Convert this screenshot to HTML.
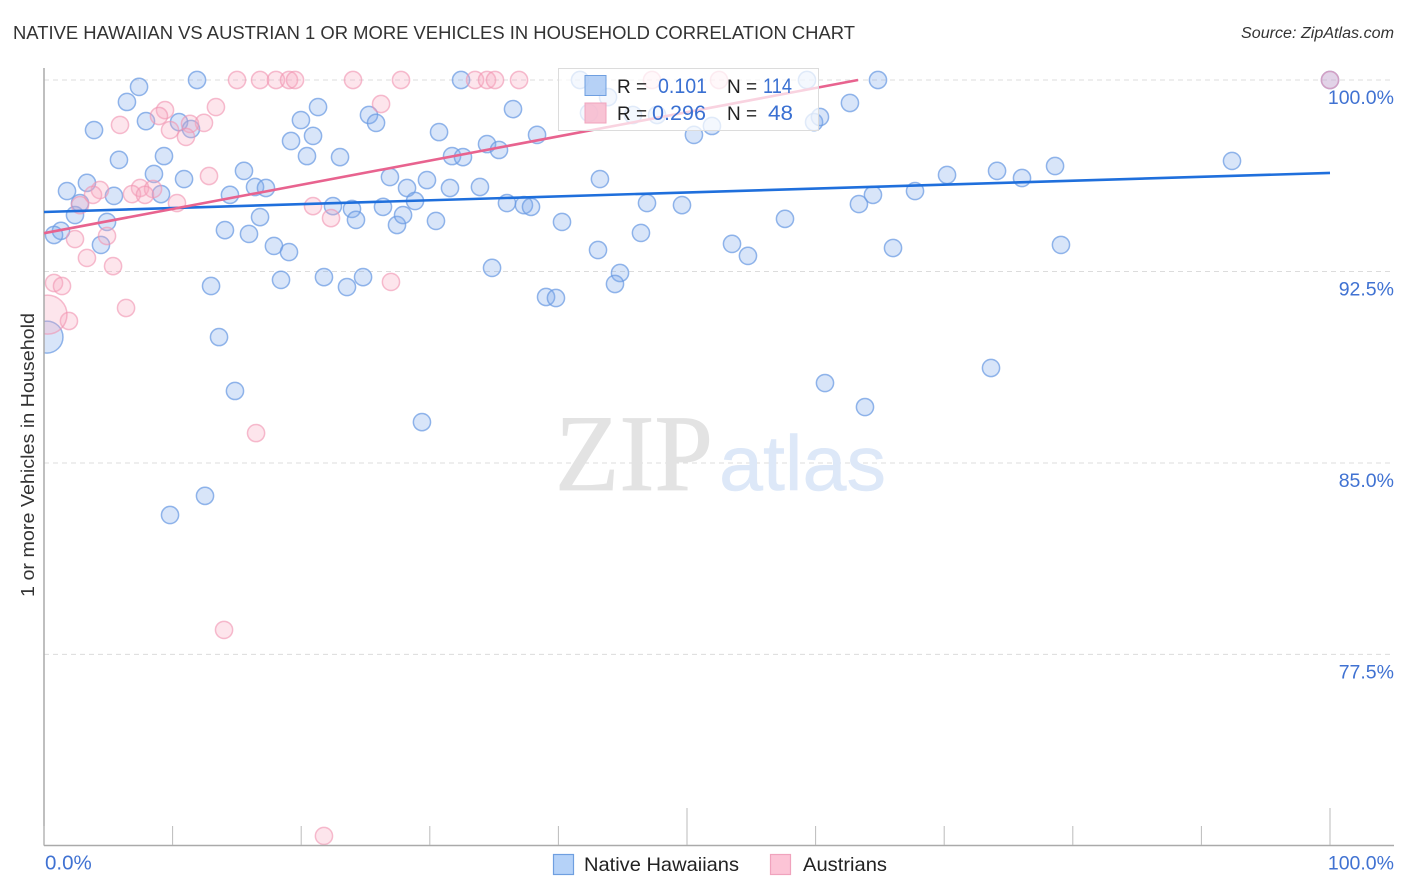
<!DOCTYPE html>
<html lang="en">
<head>
<meta charset="utf-8">
<title>Native Hawaiian vs Austrian correlation chart</title>
<style>
html,body{margin:0;padding:0;background:#fff;}
svg{display:block;font-family:"Liberation Sans",sans-serif;}
</style>
</head>
<body>
<svg id="chart" xmlns="http://www.w3.org/2000/svg" width="1406" height="892" viewBox="0 0 1406 892">
  <text x="13" y="39" font-size="18.5" fill="#333" textLength="842" lengthAdjust="spacingAndGlyphs">NATIVE HAWAIIAN VS AUSTRIAN 1 OR MORE VEHICLES IN HOUSEHOLD CORRELATION CHART</text>
  <text x="1241" y="38" font-size="15.5" font-style="italic" fill="#333" textLength="153" lengthAdjust="spacingAndGlyphs">Source: ZipAtlas.com</text>
  <g id="grid"></g>
  <text x="555" y="490" font-family="'Liberation Serif',serif" font-size="109" fill="#e3e3e3" stroke="#e3e3e3" stroke-width="0.8" textLength="158" lengthAdjust="spacingAndGlyphs">ZIP</text>
  <text x="719" y="490" font-family="'Liberation Sans',sans-serif" style="font-family:'Liberation Sans',sans-serif" font-size="78" fill="#dde8f8" stroke="#dde8f8" stroke-width="0.5" textLength="167" lengthAdjust="spacingAndGlyphs">atlas</text>
  <g id="hawaiian-points"></g>
  <g id="austrian-points"></g>
  <rect x="0" y="60" width="44" height="790" fill="#fff"/>
  <g id="axes"></g>
  <g id="trends"></g>
  <g>
    <rect x="558.5" y="68.5" width="260" height="62" fill="#fff" fill-opacity="0.72" stroke="#dcdcdc" stroke-width="1"/>
    <rect x="585" y="75.5" width="21" height="20" fill="#a9c9f5" fill-opacity="0.85" stroke="#6f9fe0"/>
    <rect x="585" y="103" width="21" height="20" fill="#f7b9cd" fill-opacity="0.85" stroke="#f0a3bd"/>
    <text x="617" y="93" font-size="19" fill="#222">R =</text>
    <text x="658" y="93" font-size="21" fill="#3a70d2" textLength="49" lengthAdjust="spacingAndGlyphs">0.101</text>
    <text x="727" y="93" font-size="19" fill="#222">N =</text>
    <text x="763" y="93" font-size="21" fill="#3a70d2" textLength="29" lengthAdjust="spacingAndGlyphs">114</text>
    <text x="617" y="120" font-size="19" fill="#222">R =</text>
    <text x="652" y="120" font-size="21" fill="#3a70d2" textLength="54" lengthAdjust="spacingAndGlyphs">0.296</text>
    <text x="727" y="120" font-size="19" fill="#222">N =</text>
    <text x="768" y="120" font-size="21" fill="#3a70d2" textLength="25" lengthAdjust="spacingAndGlyphs">48</text>
  </g>
  <text transform="translate(34,455) rotate(-90)" font-size="18.5" fill="#333" text-anchor="middle" textLength="284" lengthAdjust="spacingAndGlyphs">1 or more Vehicles in Household</text>
  <g id="tick-labels"></g>
  <g>
    <rect x="553.5" y="854.5" width="20" height="20" fill="#b5d2f8" stroke="#6f9fe0" stroke-width="1.2"/>
    <text x="584" y="871" font-size="19.5" fill="#222" textLength="155" lengthAdjust="spacingAndGlyphs">Native Hawaiians</text>
    <rect x="770.5" y="854.5" width="20" height="20" fill="#fcc4d6" stroke="#f0a3bd" stroke-width="1.2"/>
    <text x="803" y="871" font-size="19.5" fill="#222" textLength="84" lengthAdjust="spacingAndGlyphs">Austrians</text>
  </g>
</svg>
<script>
const yTickValues = [100, 92.5, 85, 77.5];
const yTickLabels = ["100.0%", "92.5%", "85.0%", "77.5%"];
const xTickValues = [0, 10, 20, 30, 40, 50, 60, 70, 80, 90, 100];
const xTickLabels = ["0.0%", "100.0%"];

const hawaiianX = [11.90,7.39,6.45,32.43,41.68,59.33,64.85,100,3.89,7.93,10.50,11.43,19.98,21.31,19.21,20.92,25.27,25.82,20.45,23.02,30.72,34.45,35.38,36.47,38.34,31.73,32.58,5.83,9.33,3.34,1.79,2.80,2.41,5.44,8.55,9.10,10.89,14.46,15.55,16.41,17.26,16.80,14.07,15.94,17.88,19.05,18.43,21.77,23.56,24.81,12.99,13.61,14.85,12.52,9.80,29.39,22.47,23.95,24.26,26.36,26.90,28.23,28.85,27.45,27.92,29.78,31.57,30.48,33.90,36.00,37.32,37.87,40.28,34.84,39.04,39.81,43.08,43.23,44.79,44.40,46.42,46.89,49.61,50.54,51.94,53.50,54.74,57.62,59.88,60.34,62.67,60.73,63.84,63.37,64.46,67.73,66.02,70.22,73.64,74.11,76.05,78.62,79.08,92.38,4.90,4.43,1.32,0.78,43.86,42.38,45.80,47.67];
const hawaiianY = [100,99.73,99.14,100,100,100,100,100,98.04,98.39,98.35,98.08,98.43,98.94,97.61,97.81,98.63,98.32,97.02,96.98,97.96,97.49,97.26,98.86,97.85,97.02,96.98,96.87,97.02,95.97,95.65,95.18,94.71,95.46,96.32,95.53,96.12,95.50,96.44,95.81,95.77,94.63,94.12,93.97,93.50,93.26,92.17,92.28,91.89,92.28,91.93,89.93,87.82,83.71,82.96,86.60,95.06,94.95,94.52,95.03,96.20,95.77,95.26,94.32,94.71,96.08,95.77,94.48,95.81,95.18,95.10,95.03,94.44,92.64,91.50,91.46,93.34,96.12,92.44,92.01,94.01,95.18,95.10,97.85,98.20,93.58,93.11,94.56,98.35,98.55,99.10,88.13,87.19,95.14,95.50,95.65,93.42,96.28,88.72,96.44,96.16,96.63,93.54,96.83,94.44,93.54,94.09,93.93,99.33,98.71,98.63,98.63];
const hawaiianLargeX = [0.23];
const hawaiianLargeY = [89.93];

const austrianX = [15.01,16.80,18.04,19.05,19.52,24.03,27.76,33.52,34.45,35.07,36.94,47.28,52.49,100,13.37,9.41,8.94,5.91,12.44,11.35,9.80,11.04,12.83,4.35,3.81,2.80,7.47,8.48,6.84,7.85,10.34,20.92,22.32,4.90,2.41,3.34,5.37,0.78,1.40,6.38,1.94,26.21,16.49,14.00,26.98,21.77];
const austrianY = [100,100,100,100,100,100,100,100,100,100,100,100,100,100,98.94,98.82,98.59,98.24,98.32,98.28,98.04,97.77,96.24,95.69,95.50,95.10,95.77,95.73,95.53,95.50,95.18,95.06,94.59,93.89,93.77,93.03,92.71,92.05,91.93,91.07,90.56,99.06,86.17,78.46,92.09,70.39];
const austrianLargeX = [0.27];
const austrianLargeY = [90.81];

const hawaiianTrendX = [0, 100];
const hawaiianTrendY = [94.83, 96.36];
const austrianTrendX = [0, 63.3];
const austrianTrendY = [94.0, 100];

const NS = "http://www.w3.org/2000/svg";
function xScale(v) { return 44 + v * 12.86; }
function yScale(v) { return 80 + (100 - v) * 25.53; }
function make(tag, attrs, parent) {
  const el = document.createElementNS(NS, tag);
  for (const k in attrs) el.setAttribute(k, attrs[k]);
  parent.appendChild(el);
  return el;
}

const grid = document.getElementById("grid");
yTickValues.forEach(function (v) {
  const gl = make("line", {x1: 44, x2: 1394, y1: yScale(v), y2: yScale(v), stroke: "#dcdcdc", "stroke-width": 1, "stroke-dasharray": "5 4"}, grid);
  
  
});

const axes = document.getElementById("axes");
const yAxisLine = make("line", {x1: 44, x2: 44, y1: 68, y2: 845.5, stroke: "#aaa", "stroke-width": 1.5}, axes);


const xAxisLine = make("line", {x1: 44, x2: 1394, y1: 845.5, y2: 845.5, stroke: "#aaa", "stroke-width": 1.5}, axes);


xTickValues.forEach(function (v) {
  const tall = v === 50 || v === 100;
  const t = make("line", {x1: xScale(v), x2: xScale(v), y1: tall ? 808 : 826, y2: 845, stroke: "#bbb", "stroke-width": 1}, axes);
  
  
});

const tickLabels = document.getElementById("tick-labels");
yTickValues.forEach(function (v, i) {
  const t = make("text", {x: 1394, y: yScale(v) + 24, "font-size": 19.5, fill: "#4072d2", "text-anchor": "end"}, tickLabels);
  
  
  t.textContent = yTickLabels[i];
});
const xLabelLeft = make("text", {x: xScale(0) + 1, y: 869.5, "font-size": 20.5, fill: "#4072d2"}, tickLabels);


xLabelLeft.textContent = xTickLabels[0];
const xLabelRight = make("text", {x: 1394, y: 869.5, "font-size": 19.5, fill: "#4072d2", "text-anchor": "end"}, tickLabels);


xLabelRight.textContent = xTickLabels[1];

const hawaiianGroup = document.getElementById("hawaiian-points");
function drawHawaiian(xs, ys, r) {
  xs.forEach(function (x, i) {
    const c = make("circle", {cx: xScale(x), cy: yScale(ys[i]), r: r, fill: "#7eaaeb", "fill-opacity": 0.3, stroke: "#6a9ae2", "stroke-opacity": 0.72, "stroke-width": 1.5}, hawaiianGroup);
    
    
  });
}
drawHawaiian(hawaiianX, hawaiianY, 8.6);
drawHawaiian(hawaiianLargeX, hawaiianLargeY, 16);

const austrianGroup = document.getElementById("austrian-points");
function drawAustrian(xs, ys, r) {
  xs.forEach(function (x, i) {
    const c = make("circle", {cx: xScale(x), cy: yScale(ys[i]), r: r, fill: "#f9a8c0", "fill-opacity": 0.3, stroke: "#f095b2", "stroke-opacity": 0.62, "stroke-width": 1.5}, austrianGroup);
    
    
  });
}
drawAustrian(austrianX, austrianY, 8.6);
drawAustrian(austrianLargeX, austrianLargeY, 19.5);

const trends = document.getElementById("trends");
const blueTrend = make("line", {x1: xScale(hawaiianTrendX[0]), y1: yScale(hawaiianTrendY[0]), x2: xScale(hawaiianTrendX[1]), y2: yScale(hawaiianTrendY[1]), stroke: "#1f6fdc", "stroke-width": 2.6}, trends);


const pinkTrend = make("line", {x1: xScale(austrianTrendX[0]), y1: yScale(austrianTrendY[0]), x2: xScale(austrianTrendX[1]), y2: yScale(austrianTrendY[1]), stroke: "#e8638f", "stroke-width": 2.6}, trends);


</script>
</body>
</html>
